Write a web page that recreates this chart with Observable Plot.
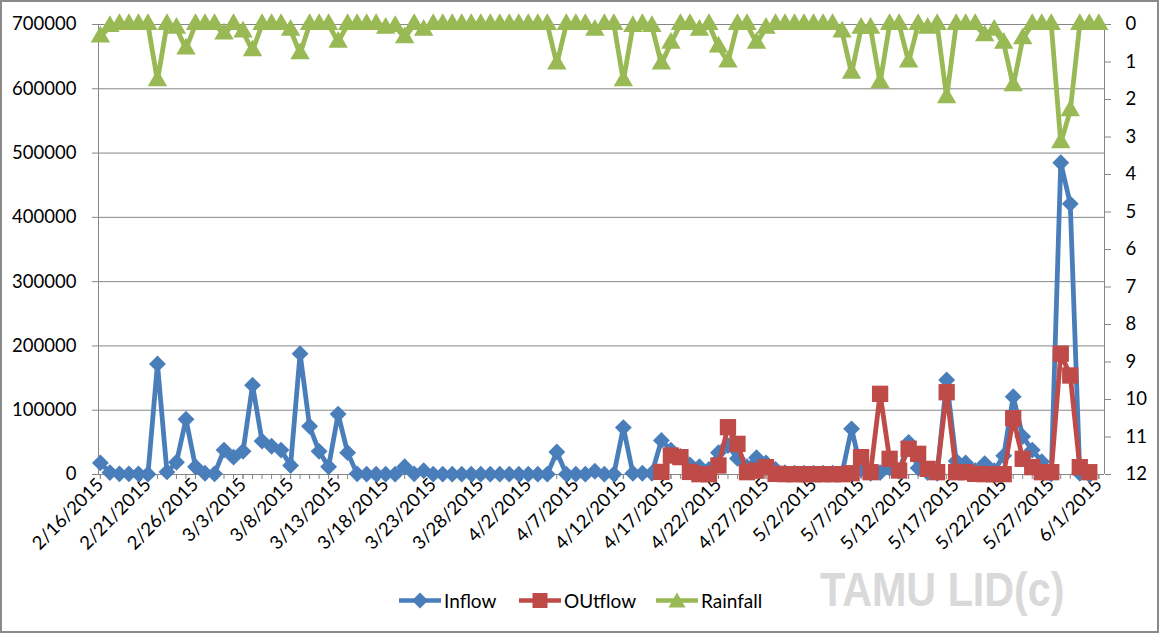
<!DOCTYPE html>
<html>
<head>
<meta charset="utf-8">
<script src="https://cdn.jsdelivr.net/npm/d3@7"></script>
<script src="https://cdn.jsdelivr.net/npm/@observablehq/plot@0.6"></script>
<style>
  body { margin: 0; background: #fff; }
  #wrap { position: relative; width: 1159px; height: 633px; overflow: hidden; background: #fff; font-family: Lato, "Open Sans", sans-serif; }
  #chart { position: absolute; left: 0; top: 0; }
  #frame { position: absolute; left: 0; top: 0; width: 1159px; height: 633px; box-sizing: border-box; border: 2px solid #8a8a8a; pointer-events: none; }
  .lg { position: absolute; top: 588px; height: 24px; display: flex; align-items: center; font-size: 19px; color: #000; }
  .lg svg { margin-right: 3px; }
  #wm { position: absolute; left: 820px; top: 562px; font-family: "Liberation Sans", Arial, sans-serif; font-weight: bold; font-size: 48px; color: #d9d9d9; transform: scaleX(0.86); transform-origin: left top; white-space: nowrap; }
</style>
</head>
<body>
<div id="wrap">
  <div id="chart"></div>
  <div id="legend"></div>
  <div id="wm">TAMU LID(c)</div>
  <div id="frame"></div>
</div>
<script>
// ---- data (daily) ----
const startDate = "2015-02-16";      // first day of Inflow and Rainfall
const outflowStart = "2015-04-16";   // first day of OUtflow
const inflow = [
  18000, 3000, 1000, 1000, 1000, 500, 172000, 4000, 19000, 86000,
  12000, 2000, 1000, 38000, 27000, 36000, 139000, 52000, 44000, 38000,
  14000, 188000, 75000, 36000, 12000, 94000, 34000, 1000, 500, 500,
  500, 500, 12000, 1000, 6000, 500, 500, 500, 500, 500,
  500, 500, 500, 500, 500, 500, 500, 500, 35000, 500,
  500, 500, 5000, 500, 500, 73000, 2000, 2000, 2000, 53000,
  38000, 28000, 15000, 12000, 8000, 34000, 45000, 25000, 12000, 26000,
  18000, 8000, 3000, 2000, 2000, 2000, 2000, 2000, 2000, 71000,
  8000, 2000, 3000, 10000, 5000, 50000, 10000, 3000, 2000, 147000,
  21000, 18000, 6000, 17000, 6000, 29000, 121000, 59000, 38000, 20000,
  1000, 485000, 421000, 2000, 0
];
const outflow = [
  4000, 29500, 27000, 4000, 500, 500, 14000, 73600, 47700, 3600,
  6000, 11400, 1000, 500, 500, 500, 500, 500, 500, 500,
  2000, 27000, 3600, 125500, 24400, 6200, 40000, 32200, 8800, 3600,
  128000, 3600, 3600, 1000, 500, 500, 500, 87600, 24400, 11400,
  3600, 3600, 188000, 154000, 11400, 3600
];
const rainfall = [
  0.33, 0.05, 0, 0, 0, 0, 1.5, 0, 0.1, 0.65,
  0, 0, 0, 0.25, 0, 0.2, 0.7, 0, 0, 0,
  0.15, 0.78, 0, 0, 0, 0.47, 0, 0, 0, 0,
  0.1, 0.05, 0.35, 0, 0.15, 0, 0, 0, 0, 0,
  0, 0, 0, 0, 0, 0, 0, 0, 1.05, 0,
  0, 0, 0.15, 0, 0, 1.5, 0.05, 0, 0.05, 1.05,
  0.5, 0, 0, 0.15, 0, 0.6, 1.0, 0, 0, 0.5,
  0.1, 0, 0, 0, 0, 0, 0, 0, 0.2, 1.3,
  0.1, 0.1, 1.55, 0, 0, 1.0, 0, 0.1, 0, 1.95,
  0, 0, 0, 0.3, 0.15, 0.5, 1.63, 0.38, 0, 0,
  0, 3.15, 2.3, 0, 0, 0
];
const flowTicks = [0, 100000, 200000, 300000, 400000, 500000, 600000, 700000];
const rainTicks = [0, 1, 2, 3, 4, 5, 6, 7, 8, 9, 10, 11, 12];
const seriesNames = ["Inflow", "OUtflow", "Rainfall"];
const seriesColors = ["#4a7ebb", "#be4b48", "#98b954"];
const flowMax = 700000, rainMax = 12;   // right axis is reversed: 0 at top, 12 at bottom

// ---- build tables ----
const day = 864e5;
const d0 = new Date(startDate + "T00:00:00Z");
const dOut = new Date(outflowStart + "T00:00:00Z");
const toRainY = r => flowMax * (1 - r / rainMax);
const inflowData = inflow.map((v, i) => ({date: new Date(+d0 + i * day), v}));
const outflowData = outflow.map((v, i) => ({date: new Date(+dOut + i * day), v}));
const rainData = rainfall.map((r, i) => ({date: new Date(+d0 + i * day), v: toRainY(r)}));
const allDates = rainData.map(d => d.date);
const labelDates = allDates.filter((d, i) => i % 5 === 0);
const xMin = new Date(+allDates[0] - 0.2 * day);
const xMax = new Date(+allDates[allDates.length - 1] + 0.6 * day);
const fmt = d3.utcFormat("%-m/%-d/%Y");
const grey = "#868686";

const chart = Plot.plot({
  width: 1159, height: 565,
  marginLeft: 98, marginRight: 55, marginTop: 24, marginBottom: 91,
  style: {fontFamily: "Lato, 'Open Sans', sans-serif", fontSize: "18px", color: "#000", background: "transparent", overflow: "visible"},
  x: {type: "utc", domain: [xMin, xMax], label: null},
  y: {domain: [0, flowMax], label: null},
  marks: [
    Plot.ruleY(flowTicks.slice(1), {stroke: grey, strokeWidth: 1}),
    Plot.ruleY([0], {stroke: grey, strokeWidth: 1}),
    Plot.ruleX([xMin], {stroke: grey, strokeWidth: 1}),
    Plot.ruleX([xMax], {stroke: grey, strokeWidth: 1}),
    Plot.axisY(flowTicks, {anchor: "left", tickSize: 6, tickPadding: 16, tickFormat: d => String(d), stroke: grey, fill: "#000", label: null, fontSize: 18.5}),
    Plot.axisY(rainTicks.map(toRainY), {anchor: "right", tickSize: 6, tickPadding: 15, tickFormat: d => String(Math.round(rainMax * (1 - d / flowMax))), stroke: grey, fill: "#000", label: null, fontSize: 18.5}),
    Plot.axisX(allDates, {anchor: "bottom", tickSize: 5, stroke: grey, fill: "none", label: null}),
    Plot.axisX(labelDates, {anchor: "bottom", tickSize: 5, tickPadding: 2, tickRotate: -45, tickFormat: fmt, stroke: grey, fill: "#000", label: null, fontSize: 18.5}),
    Plot.line(inflowData, {x: "date", y: "v", stroke: seriesColors[0], strokeWidth: 4.8, strokeLinejoin: "round"}),
    Plot.dot(inflowData, {x: "date", y: "v", symbol: "diamond2", r: 7.6, fill: seriesColors[0], stroke: "none"}),
    Plot.line(outflowData, {x: "date", y: "v", stroke: seriesColors[1], strokeWidth: 4.8, strokeLinejoin: "round"}),
    Plot.dot(outflowData, {x: "date", y: "v", symbol: "square", r: 9.2, fill: seriesColors[1], stroke: "none"}),
    Plot.line(rainData, {x: "date", y: "v", stroke: seriesColors[2], strokeWidth: 4.8, strokeLinejoin: "round"}),
    Plot.dot(rainData, {x: "date", y: "v", symbol: "triangle", r: 7.2, fill: seriesColors[2], stroke: "none"})
  ]
});
document.getElementById("chart").appendChild(chart);

// ---- legend ----
const markerPath = [
  "M21,2.5 L29,10.5 L21,18.5 L13,10.5 Z",
  "M13.5,3 L28.5,3 L28.5,18 L13.5,18 Z",
  "M21,2.5 L29.5,17.5 L12.5,17.5 Z"
];
const lefts = [399, 519, 656];
const legend = document.getElementById("legend");
seriesNames.forEach((name, i) => {
  const div = document.createElement("div");
  div.className = "lg";
  div.style.left = lefts[i] + "px";
  div.innerHTML = `<svg width="42" height="21"><line x1="0" y1="10.5" x2="42" y2="10.5" stroke="${seriesColors[i]}" stroke-width="4.5"/><path d="${markerPath[i]}" fill="${seriesColors[i]}"/></svg><span>${name}</span>`;
  legend.appendChild(div);
});
</script>
</body>
</html>
